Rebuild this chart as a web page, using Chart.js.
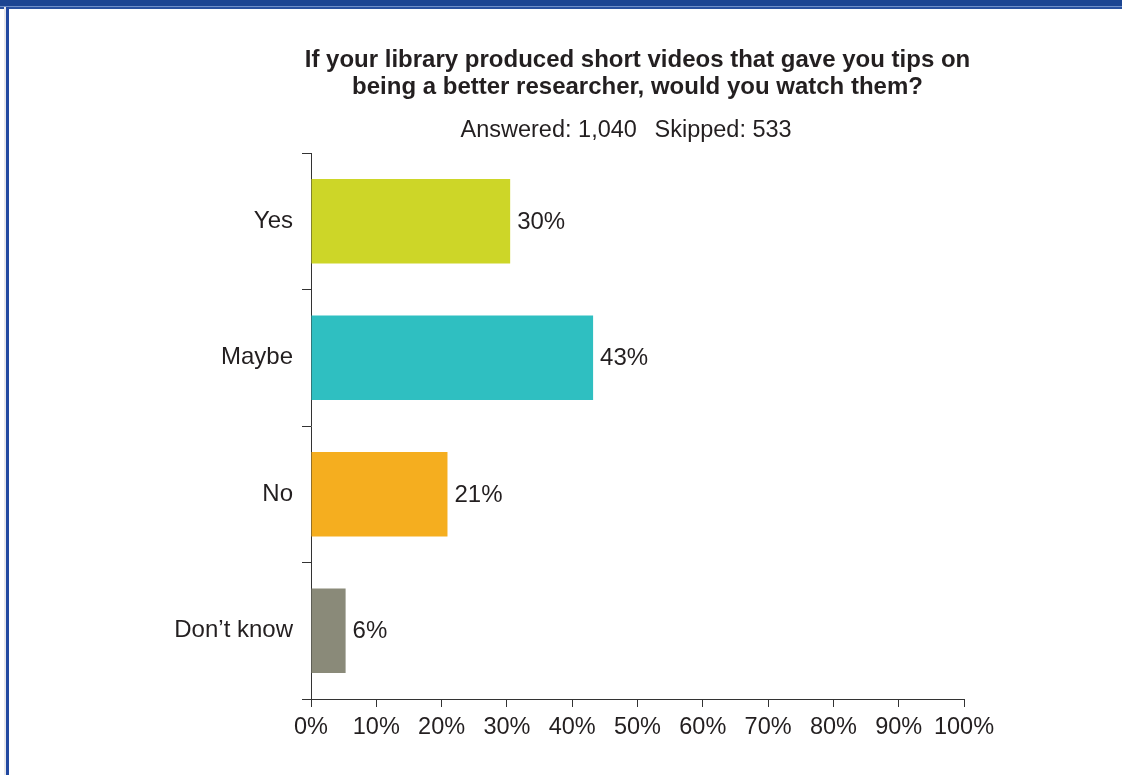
<!DOCTYPE html>
<html>
<head>
<meta charset="utf-8">
<script src="https://cdn.jsdelivr.net/npm/chart.js@4.4.1/dist/chart.umd.min.js"></script>
<style>
  html, body { margin: 0; padding: 0; background: #fff; }
  #wrap { position: relative; width: 1122px; height: 775px; overflow: hidden; }
  #c { position: absolute; left: 0; top: 0; }
  .band { position: absolute; left: 0; top: 0; width: 1122px; height: 6px; background: #1c4592; }
  .band2 { position: absolute; left: 0; top: 6px; width: 1122px; height: 1px; background: #6f8fc8; }
  .band3 { position: absolute; left: 0; top: 7px; width: 1122px; height: 2px; background: #2a52a0; }
  .side { position: absolute; left: 6px; top: 7px; width: 3px; height: 768px; background: #2148a0; }
  .shade { position: absolute; left: 4px; top: 7px; width: 2px; height: 768px; background: #e8e8ea; }
</style>
</head>
<body>
<div id="wrap">
  <canvas id="c" width="1122" height="775"></canvas>
  <div class="band"></div><div class="band2"></div><div class="band3"></div>
  <div class="shade"></div><div class="side"></div>
</div>
<script>
const titleLines = ["If your library produced short videos that gave you tips on", "being a better researcher, would you watch them?"];
const answeredText = "Answered: 1,040";
const skippedText = "Skipped: 533";
const categories = ["Yes", "Maybe", "No", "Don\u2019t know"];
const values = [30.5, 43.2, 20.9, 5.3];
const valueLabels = ["30%", "43%", "21%", "6%"];
const barColors = ["#cdd628", "#2fbfc1", "#f5ae1f", "#8a8a79"];
const xTicks = [0, 10, 20, 30, 40, 50, 60, 70, 80, 90, 100];

const FONT = "'Liberation Sans', Arial, Helvetica, sans-serif";
const TXT = '#231f20';

const textPlugin = {
  id: 'textPlugin',
  afterDraw(chart) {
    const ctx = chart.ctx;
    const ca = chart.chartArea;
    const cx = (ca.left + ca.right) / 2;
    ctx.save();
    ctx.fillStyle = TXT;
    ctx.textBaseline = 'middle';
    ctx.textAlign = 'center';
    ctx.font = "bold 24px " + FONT;
    ctx.fillText(titleLines[0], cx, 60);
    ctx.fillText(titleLines[1], cx, 87);
    ctx.font = "23.5px " + FONT;
    ctx.textAlign = 'left';
    ctx.fillText(answeredText, cx - 177, 131);
    ctx.fillText(skippedText, cx + 17, 131);
    // value labels
    const meta = chart.getDatasetMeta(0);
    ctx.font = "24px " + FONT;
    meta.data.forEach((bar, i) => {
      ctx.fillText(valueLabels[i], bar.x + 7, bar.y + 1);
    });
    ctx.restore();
  }
};

new Chart(document.getElementById('c'), {
  type: 'bar',
  data: {
    labels: categories,
    datasets: [{
      data: values,
      backgroundColor: barColors,
      borderWidth: 0,
      categoryPercentage: 1.0,
      barPercentage: 0.62
    }]
  },
  options: {
    indexAxis: 'y',
    responsive: false,
    animation: false,
    devicePixelRatio: 1,
    layout: { padding: { left: 0, right: 158, top: 153, bottom: 0 } },
    plugins: {
      legend: { display: false },
      tooltip: { enabled: false },
      title: { display: false }
    },
    scales: {
      x: {
        type: 'linear',
        min: 0, max: 100,
        afterBuildTicks(scale) { scale.ticks = xTicks.map(v => ({ value: v })); },
        afterFit(scale) { scale.height = 76; },
        ticks: {
          callback: v => v + '%',
          color: TXT,
          font: { family: FONT, size: 23.5 },
          padding: 6,
          maxRotation: 0,
          autoSkip: false
        },
        grid: { drawOnChartArea: false, drawTicks: true, tickLength: 8, color: '#333', lineWidth: 1 },
        border: { display: true, color: '#333', width: 1 }
      },
      y: {
        afterFit(scale) { scale.width = 311; },
        ticks: {
          color: TXT,
          font: { family: FONT, size: 24 },
          padding: 9
        },
        grid: { offset: true, drawOnChartArea: false, drawTicks: true, tickLength: 9, color: '#333', lineWidth: 1 },
        border: { display: true, color: '#333', width: 1 }
      }
    }
  },
  plugins: [textPlugin]
});
</script>
</body>
</html>
